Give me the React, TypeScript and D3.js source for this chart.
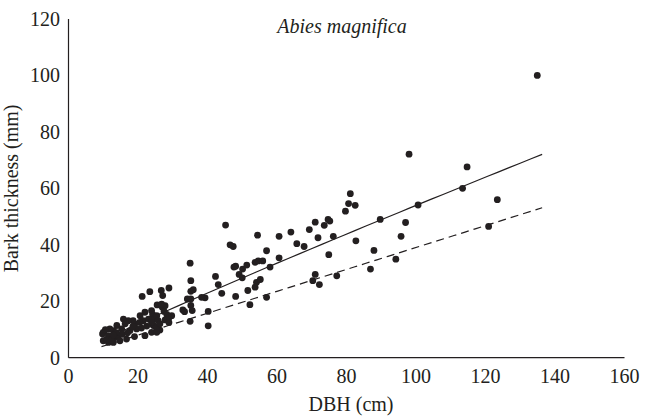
import React from "react";
import * as d3 from "d3";

const W = 649;
const H = 419;

const xTicks = [0, 20, 40, 60, 80, 100, 120, 140, 160];
const yTicks = [0, 20, 40, 60, 80, 100, 120];

const dbh = [
  134.9, 98.0, 114.7, 113.4, 100.6, 123.4, 97.0, 95.7, 120.9,
  81.1, 80.6, 82.5, 79.7, 89.7, 74.7, 75.2, 71.0, 73.6, 69.3, 64.0, 71.8, 76.2,
  65.7, 67.8, 82.7, 74.9, 87.9, 94.2, 86.9, 71.0, 70.3, 72.2, 77.2,
  45.2, 46.5, 47.4, 54.4, 60.6, 57.0, 60.6, 47.6, 48.1, 50.1, 51.3, 53.7, 54.6,
  55.9, 58.0, 49.1, 50.0, 54.1, 55.2, 53.7, 51.6, 44.1, 48.1, 57.0,
  42.3, 43.1, 52.2, 39.3, 38.3, 40.2,
  35.0, 35.2, 35.2, 35.9, 32.9, 33.4, 35.2, 35.6, 35.0, 40.2, 34.2, 35.2,
  28.9, 26.7, 27.1, 23.4, 25.5, 27.0, 27.8, 27.5, 28.3, 27.8, 28.9, 26.3, 23.9,
  24.2, 24.6, 25.4, 25.8, 24.4, 25.2,
  21.2, 26.8, 22.0, 23.9, 20.6, 21.5, 23.0, 23.9, 26.3, 29.0, 19.1, 18.6, 17.2,
  15.8, 16.3, 19.6, 17.7, 15.3, 22.0, 25.4, 13.9, 12.9, 11.9, 10.0, 11.5, 13.4,
  14.3, 10.0, 11.5, 12.9, 14.8, 16.7, 29.7,
  9.8, 10.6, 11.0, 12.3, 13.8, 15.5, 17.0, 18.5, 20.5, 21.0, 22.5, 13.0, 19.0
];

const bark = [
  100.0, 72.1, 67.6, 60.0, 54.1, 56.0, 47.9, 43.0, 46.5,
  58.1, 54.6, 54.0, 51.9, 49.0, 49.0, 48.4, 48.0, 46.9, 45.4, 44.5, 42.5, 43.0,
  40.4, 39.4, 41.4, 36.5, 38.0, 34.9, 31.4, 29.5, 27.3, 25.9, 29.0,
  47.0, 40.0, 39.4, 43.4, 43.0, 37.9, 35.4, 32.1, 32.4, 31.4, 32.8, 33.8, 34.3,
  34.3, 32.1, 29.5, 28.3, 26.7, 27.7, 25.0, 23.8, 22.8, 21.7, 21.4,
  28.8, 25.9, 18.8, 21.2, 21.4, 16.4,
  33.5, 27.3, 23.5, 24.1, 16.9, 16.3, 18.5, 16.7, 12.9, 11.3, 20.8, 20.8,
  24.7, 23.8, 22.0, 23.4, 18.7, 17.9, 18.4, 16.4, 15.3, 13.4, 12.5, 9.8, 9.0,
  15.3, 13.7, 14.9, 13.1, 11.4, 10.8,
  21.7, 19.0, 16.1, 16.7, 14.9, 13.1, 13.7, 12.5, 12.0, 14.3, 12.0, 13.1, 13.1,
  13.7, 12.0, 10.2, 9.6, 10.2, 7.8, 9.0, 11.4, 9.6, 10.2, 9.0, 7.8, 7.2,
  7.8, 6.0, 5.4, 5.4, 6.0, 6.6, 14.9,
  8.4, 9.9, 6.5, 6.3, 8.9, 8.3, 8.8, 11.0, 12.5, 10.5, 11.2, 8.0, 7.5
];

// fitted curves
const fitRange = [9.5, 136.3];
const solidFit = { a: 0.731, b: 0.934 }; // power fit
const dashedFit = { slope: 0.388, intercept: 0.24 }; // linear fit

const title = "Abies magnifica";
const xLabel = "DBH (cm)";
const yLabel = "Bark thickness (mm)";

const INK = "#231f20";
const FONT = "Liberation Serif, DejaVu Serif, serif";
const txt = { fontFamily: FONT } as React.CSSProperties;

export default function App() {
  const x = d3.scaleLinear().domain([0, 160]).range([68.5, 624.5]);
  const y = d3.scaleLinear().domain([0, 120]).range([357.7, 19]);

  const xs = d3.range(0, 41).map((i) => fitRange[0] + ((fitRange[1] - fitRange[0]) * i) / 40);
  const line = d3
    .line<[number, number]>()
    .x((d) => x(d[0]))
    .y((d) => y(d[1]));
  const solidPath = line(xs.map((v) => [v, solidFit.a * Math.pow(v, solidFit.b)]));
  const dashedPath = line(xs.map((v) => [v, dashedFit.slope * v + dashedFit.intercept]));

  const pts = dbh.map((d, i) => [d, bark[i]]);

  return (
    <svg
      width={W}
      height={H}
      style={{ position: "absolute", left: 0, top: 0, background: "#fff" }}
    >
      <rect x={0} y={0} width={W} height={H} fill="#fff" />
      {/* axes */}
      <line x1={x(0)} x2={x(0)} y1={y(120)} y2={y(0)} stroke={INK} strokeWidth={1.2} />
      <line x1={x(0)} x2={x(160)} y1={y(0)} y2={y(0)} stroke={INK} strokeWidth={1.2} />
      {yTicks.map((t) => (
        <text
          key={"y" + t}
          x={x(0) - 8.5}
          y={y(t)}
          dy="0.34em"
          textAnchor="end"
          fontSize={20}
          fill={INK}
          style={txt}
        >
          {t}
        </text>
      ))}
      {xTicks.map((t) => (
        <text
          key={"x" + t}
          x={x(t)}
          y={y(0) + 25}
          textAnchor="middle"
          fontSize={20}
          fill={INK}
          style={txt}
        >
          {t}
        </text>
      ))}
      <text x={351} y={411} textAnchor="middle" fontSize={20} fill={INK} style={txt}>
        {xLabel}
      </text>
      <text
        transform={`translate(17.5,${(y(0) + y(120)) / 2}) rotate(-90)`}
        textAnchor="middle"
        fontSize={20}
        fill={INK}
        style={txt}
      >
        {yLabel}
      </text>
      <text
        x={342}
        y={33}
        textAnchor="middle"
        fontSize={20}
        fontStyle="italic"
        fill={INK}
        style={txt}
      >
        {title}
      </text>
      {/* fits */}
      <path d={solidPath ?? ""} fill="none" stroke={INK} strokeWidth={1.2} />
      <path d={dashedPath ?? ""} fill="none" stroke={INK} strokeWidth={1.2} strokeDasharray="8,5" />
      {/* points */}
      {pts.map((p, i) => (
        <circle key={i} cx={x(p[0])} cy={y(p[1])} r={3.4} fill={INK} />
      ))}
    </svg>
  );
}
